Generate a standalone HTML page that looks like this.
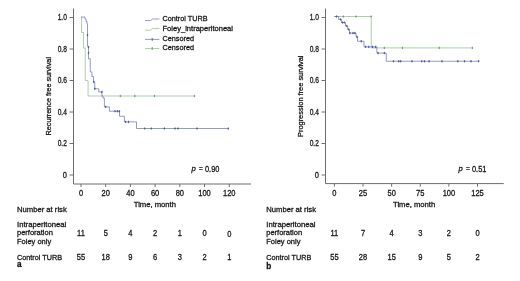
<!DOCTYPE html>
<html><head><meta charset="utf-8"><title>Kaplan-Meier</title>
<style>html,body{margin:0;padding:0;background:#fff}svg{display:block}text{font-family:"Liberation Sans",sans-serif;fill:#141414;stroke:#141414;stroke-width:0.28px}</style></head><body>
<svg width="520" height="281" viewBox="0 0 520 281" font-size="7.7">
<rect width="520" height="281" fill="#fff"/>
<g stroke="#6e6e6e" stroke-width="1" fill="none">
<path d="M73.5 8.5V184H251"/>
<path d="M69.5 175.00H73.5"/>
<path d="M69.5 143.50H73.5"/>
<path d="M69.5 112.00H73.5"/>
<path d="M69.5 80.50H73.5"/>
<path d="M69.5 49.00H73.5"/>
<path d="M69.5 17.50H73.5"/>
<path d="M81.00 184V187"/>
<path d="M105.71 184V187"/>
<path d="M130.42 184V187"/>
<path d="M155.12 184V187"/>
<path d="M179.83 184V187"/>
<path d="M204.54 184V187"/>
<path d="M229.25 184V187"/>
</g>
<text x="66.9" y="177.85" text-anchor="end" textLength="4.17" lengthAdjust="spacingAndGlyphs" font-size="8.3">0</text>
<text x="66.9" y="146.35" text-anchor="end" textLength="9.2" lengthAdjust="spacingAndGlyphs" font-size="8.3">0.2</text>
<text x="66.9" y="114.85" text-anchor="end" textLength="9.2" lengthAdjust="spacingAndGlyphs" font-size="8.3">0.4</text>
<text x="66.9" y="83.35" text-anchor="end" textLength="9.2" lengthAdjust="spacingAndGlyphs" font-size="8.3">0.6</text>
<text x="66.9" y="51.85" text-anchor="end" textLength="9.2" lengthAdjust="spacingAndGlyphs" font-size="8.3">0.8</text>
<text x="66.9" y="20.35" text-anchor="end" textLength="9.2" lengthAdjust="spacingAndGlyphs" font-size="8.3">1.0</text>
<text x="81.00" y="195.70" text-anchor="middle" textLength="4.17" lengthAdjust="spacingAndGlyphs" font-size="8.3">0</text>
<text x="105.71" y="195.70" text-anchor="middle" textLength="8.34" lengthAdjust="spacingAndGlyphs" font-size="8.3">20</text>
<text x="130.42" y="195.70" text-anchor="middle" textLength="8.34" lengthAdjust="spacingAndGlyphs" font-size="8.3">40</text>
<text x="155.12" y="195.70" text-anchor="middle" textLength="8.34" lengthAdjust="spacingAndGlyphs" font-size="8.3">60</text>
<text x="179.83" y="195.70" text-anchor="middle" textLength="8.34" lengthAdjust="spacingAndGlyphs" font-size="8.3">80</text>
<text x="204.54" y="195.70" text-anchor="middle" textLength="12.51" lengthAdjust="spacingAndGlyphs" font-size="8.3">100</text>
<text x="229.25" y="195.70" text-anchor="middle" textLength="12.51" lengthAdjust="spacingAndGlyphs" font-size="8.3">120</text>
<text transform="translate(51.4 96.25) rotate(-90)" text-anchor="middle" textLength="78.5" lengthAdjust="spacingAndGlyphs">Recurrence free survival</text>
<path d="M81.00 17.00H81.60V32.50H83.50V48.10H85.25V80.50H88.10V96.00H194.40V96.00" stroke="#8cb989" stroke-width="0.7" fill="none"/>
<path d="M120.40 94.80V97.20M119.60 96.00H121.20M134.80 94.80V97.20M134.00 96.00H135.60M154.50 94.80V97.20M153.70 96.00H155.30M194.40 94.80V97.20M193.60 96.00H195.20" stroke="#6a9a67" stroke-width="0.8" fill="none"/>
<path d="M81.00 17.00H85.00V19.00H86.00V21.50H87.00V24.00H87.50V46.25H88.50V58.75H90.25V71.90H91.90V76.50H93.50V81.90H94.75V88.75H98.75V91.90H101.90V96.00H103.00V98.00H104.40V106.90H109.40V111.25H119.50V116.25H124.40V121.90H136.50V128.50H228.25V128.50" stroke="#6670b6" stroke-width="0.7" fill="none"/>
<path d="M87.50 33.80V36.20M86.70 35.00H88.30M88.50 46.05V48.45M87.70 47.25H89.30M88.50 51.70V54.10M87.70 52.90H89.30M93.75 80.70V83.10M92.95 81.90H94.55M94.75 87.55V89.95M93.95 88.75H95.55M101.90 90.70V93.10M101.10 91.90H102.70M105.60 105.70V108.10M104.80 106.90H106.40M115.00 110.05V112.45M114.20 111.25H115.80M117.50 110.05V112.45M116.70 111.25H118.30M119.40 110.05V112.45M118.60 111.25H120.20M125.60 120.70V123.10M124.80 121.90H126.40M128.50 120.70V123.10M127.70 121.90H129.30M144.75 127.30V129.70M143.95 128.50H145.55M151.25 127.30V129.70M150.45 128.50H152.05M164.40 127.30V129.70M163.60 128.50H165.20M175.00 127.30V129.70M174.20 128.50H175.80M178.00 127.30V129.70M177.20 128.50H178.80M197.00 127.30V129.70M196.20 128.50H197.80M228.25 127.30V129.70M227.45 128.50H229.05" stroke="#4a5299" stroke-width="0.8" fill="none"/>
<path d="M145 20.6H150.5L152.5 19.0H159.4" stroke="#6670b6" stroke-width="0.7" fill="none"/>
<path d="M145 30.2H150.5L152.5 28.599999999999998H159.4" stroke="#8cb989" stroke-width="0.7" fill="none"/>
<path d="M145 39.4H159.4" stroke="#6670b6" stroke-width="0.7" fill="none"/>
<path d="M152.2 37.9V40.9" stroke="#4a5299" stroke-width="0.9" fill="none"/>
<path d="M145 48.5H159.4" stroke="#8cb989" stroke-width="0.7" fill="none"/>
<path d="M152.2 47.0V50.0" stroke="#6a9a67" stroke-width="0.9" fill="none"/>
<text x="162.5" y="21.30" textLength="45" lengthAdjust="spacingAndGlyphs">Control TURB</text>
<text x="162.5" y="31.30" textLength="70.5" lengthAdjust="spacingAndGlyphs">Foley_intraperitoneal</text>
<text x="162.5" y="40.80" textLength="31.5" lengthAdjust="spacingAndGlyphs">Censored</text>
<text x="162.5" y="50.10" textLength="31.5" lengthAdjust="spacingAndGlyphs">Censored</text>
<text x="191.6" y="171.4" font-style="italic" font-size="7.7">p</text>
<text x="198.9" y="171.2" stroke="none" font-size="6.4" fill="#444">=</text>
<text x="205" y="171.60" textLength="14.4" lengthAdjust="spacingAndGlyphs" font-size="8.3">0.90</text>
<text x="133.75" y="206.50" textLength="42.25" lengthAdjust="spacingAndGlyphs">Time, month</text>
<text x="17" y="211.80" textLength="49.75" lengthAdjust="spacingAndGlyphs">Number at risk</text>
<text x="17" y="227.00" textLength="49.25" lengthAdjust="spacingAndGlyphs">Intraperitoneal</text>
<text x="17" y="235.40" textLength="35.86" lengthAdjust="spacingAndGlyphs">perforation</text>
<text x="17" y="244.30" textLength="34.18" lengthAdjust="spacingAndGlyphs">Foley only</text>
<text x="17" y="259.80" textLength="45" lengthAdjust="spacingAndGlyphs">Control TURB</text>
<text x="16.9" y="266.6" font-weight="bold" font-size="8.2" stroke="none">a</text>
<text x="81.00" y="235.90" text-anchor="middle" textLength="7.79" lengthAdjust="spacingAndGlyphs" font-size="8.3">11</text>
<text x="105.71" y="235.90" text-anchor="middle" textLength="4.17" lengthAdjust="spacingAndGlyphs" font-size="8.3">5</text>
<text x="130.42" y="235.90" text-anchor="middle" textLength="4.17" lengthAdjust="spacingAndGlyphs" font-size="8.3">4</text>
<text x="155.12" y="235.90" text-anchor="middle" textLength="4.17" lengthAdjust="spacingAndGlyphs" font-size="8.3">2</text>
<text x="179.83" y="235.90" text-anchor="middle" textLength="4.17" lengthAdjust="spacingAndGlyphs" font-size="8.3">1</text>
<text x="204.54" y="235.90" text-anchor="middle" textLength="4.17" lengthAdjust="spacingAndGlyphs" font-size="8.3">0</text>
<text x="229.25" y="237.20" text-anchor="middle" textLength="4.17" lengthAdjust="spacingAndGlyphs" font-size="8.3">0</text>
<text x="81.00" y="260.10" text-anchor="middle" textLength="8.34" lengthAdjust="spacingAndGlyphs" font-size="8.3">55</text>
<text x="105.71" y="260.10" text-anchor="middle" textLength="8.34" lengthAdjust="spacingAndGlyphs" font-size="8.3">18</text>
<text x="130.42" y="260.10" text-anchor="middle" textLength="4.17" lengthAdjust="spacingAndGlyphs" font-size="8.3">9</text>
<text x="155.12" y="260.10" text-anchor="middle" textLength="4.17" lengthAdjust="spacingAndGlyphs" font-size="8.3">6</text>
<text x="179.83" y="260.10" text-anchor="middle" textLength="4.17" lengthAdjust="spacingAndGlyphs" font-size="8.3">3</text>
<text x="204.54" y="260.10" text-anchor="middle" textLength="4.17" lengthAdjust="spacingAndGlyphs" font-size="8.3">2</text>
<text x="229.25" y="260.10" text-anchor="middle" textLength="4.17" lengthAdjust="spacingAndGlyphs" font-size="8.3">1</text>
<g stroke="#6e6e6e" stroke-width="1" fill="none">
<path d="M325.5 8.5V183.6H503.75"/>
<path d="M321.5 175.00H325.5"/>
<path d="M321.5 143.50H325.5"/>
<path d="M321.5 112.00H325.5"/>
<path d="M321.5 80.50H325.5"/>
<path d="M321.5 49.00H325.5"/>
<path d="M321.5 17.50H325.5"/>
<path d="M334.40 183.6V186.6"/>
<path d="M363.02 183.6V186.6"/>
<path d="M391.64 183.6V186.6"/>
<path d="M420.26 183.6V186.6"/>
<path d="M448.88 183.6V186.6"/>
<path d="M477.50 183.6V186.6"/>
</g>
<text x="318.9" y="177.85" text-anchor="end" textLength="4.17" lengthAdjust="spacingAndGlyphs" font-size="8.3">0</text>
<text x="318.9" y="146.35" text-anchor="end" textLength="9.2" lengthAdjust="spacingAndGlyphs" font-size="8.3">0.2</text>
<text x="318.9" y="114.85" text-anchor="end" textLength="9.2" lengthAdjust="spacingAndGlyphs" font-size="8.3">0.4</text>
<text x="318.9" y="83.35" text-anchor="end" textLength="9.2" lengthAdjust="spacingAndGlyphs" font-size="8.3">0.6</text>
<text x="318.9" y="51.85" text-anchor="end" textLength="9.2" lengthAdjust="spacingAndGlyphs" font-size="8.3">0.8</text>
<text x="318.9" y="20.35" text-anchor="end" textLength="9.2" lengthAdjust="spacingAndGlyphs" font-size="8.3">1.0</text>
<text x="334.40" y="195.70" text-anchor="middle" textLength="4.17" lengthAdjust="spacingAndGlyphs" font-size="8.3">0</text>
<text x="363.02" y="195.70" text-anchor="middle" textLength="8.34" lengthAdjust="spacingAndGlyphs" font-size="8.3">25</text>
<text x="391.64" y="195.70" text-anchor="middle" textLength="8.34" lengthAdjust="spacingAndGlyphs" font-size="8.3">50</text>
<text x="420.26" y="195.70" text-anchor="middle" textLength="8.34" lengthAdjust="spacingAndGlyphs" font-size="8.3">75</text>
<text x="448.88" y="195.70" text-anchor="middle" textLength="12.51" lengthAdjust="spacingAndGlyphs" font-size="8.3">100</text>
<text x="477.50" y="195.70" text-anchor="middle" textLength="12.51" lengthAdjust="spacingAndGlyphs" font-size="8.3">125</text>
<text transform="translate(303.4 96.25) rotate(-90)" text-anchor="middle" textLength="81.5" lengthAdjust="spacingAndGlyphs">Progression free survival</text>
<path d="M334.25 16.50H371.25V47.90H472.40V47.90" stroke="#8cb989" stroke-width="0.7" fill="none"/>
<path d="M343.25 15.30V17.70M342.45 16.50H344.05M356.10 15.30V17.70M355.30 16.50H356.90M371.10 15.30V17.70M370.30 16.50H371.90M384.40 46.70V49.10M383.60 47.90H385.20M402.50 46.70V49.10M401.70 47.90H403.30M439.25 46.70V49.10M438.45 47.90H440.05M472.40 46.70V49.10M471.60 47.90H473.20" stroke="#6a9a67" stroke-width="0.8" fill="none"/>
<path d="M334.25 16.50H338.60V19.40H341.50V22.50H345.50V26.00H347.70V29.40H349.50V33.10H356.10V36.90H357.50V41.25H364.00V46.90H376.90V53.10H386.25V61.25H478.60V61.25" stroke="#6670b6" stroke-width="0.7" fill="none"/>
<path d="M336.50 15.30V17.70M335.70 16.50H337.30M340.50 18.20V20.60M339.70 19.40H341.30M342.40 21.30V23.70M341.60 22.50H343.20M344.25 21.30V23.70M343.45 22.50H345.05M346.75 24.80V27.20M345.95 26.00H347.55M348.60 28.20V30.60M347.80 29.40H349.40M349.90 31.90V34.30M349.10 33.10H350.70M353.00 31.90V34.30M352.20 33.10H353.80M354.90 31.90V34.30M354.10 33.10H355.70M357.00 35.70V38.10M356.20 36.90H357.80M361.25 40.05V42.45M360.45 41.25H362.05M365.60 45.70V48.10M364.80 46.90H366.40M368.75 45.70V48.10M367.95 46.90H369.55M372.50 45.70V48.10M371.70 46.90H373.30M375.60 45.70V48.10M374.80 46.90H376.40M378.10 51.90V54.30M377.30 53.10H378.90M384.40 51.90V54.30M383.60 53.10H385.20M393.50 60.05V62.45M392.70 61.25H394.30M398.75 60.05V62.45M397.95 61.25H399.55M400.60 60.05V62.45M399.80 61.25H401.40M411.90 60.05V62.45M411.10 61.25H412.70M421.75 60.05V62.45M420.95 61.25H422.55M424.50 60.05V62.45M423.70 61.25H425.30M429.00 60.05V62.45M428.20 61.25H429.80M442.00 60.05V62.45M441.20 61.25H442.80M457.75 60.05V62.45M456.95 61.25H458.55M464.50 60.05V62.45M463.70 61.25H465.30M471.10 60.05V62.45M470.30 61.25H471.90M478.60 60.05V62.45M477.80 61.25H479.40" stroke="#4a5299" stroke-width="0.8" fill="none"/>
<text x="458.6" y="171.4" font-style="italic" font-size="7.7">p</text>
<text x="465.9" y="171.2" stroke="none" font-size="6.4" fill="#444">=</text>
<text x="472" y="171.60" textLength="14.4" lengthAdjust="spacingAndGlyphs" font-size="8.3">0.51</text>
<text x="393" y="206.50" textLength="42.25" lengthAdjust="spacingAndGlyphs">Time, month</text>
<text x="266.25" y="211.80" textLength="49.75" lengthAdjust="spacingAndGlyphs">Number at risk</text>
<text x="266.25" y="227.00" textLength="49.25" lengthAdjust="spacingAndGlyphs">Intraperitoneal</text>
<text x="266.25" y="235.40" textLength="35.86" lengthAdjust="spacingAndGlyphs">perforation</text>
<text x="266.25" y="244.30" textLength="34.18" lengthAdjust="spacingAndGlyphs">Foley only</text>
<text x="266.25" y="259.80" textLength="45" lengthAdjust="spacingAndGlyphs">Control TURB</text>
<text x="266.15" y="268.75" font-weight="bold" font-size="8.2" stroke="none">b</text>
<text x="334.40" y="235.90" text-anchor="middle" textLength="7.79" lengthAdjust="spacingAndGlyphs" font-size="8.3">11</text>
<text x="363.02" y="235.90" text-anchor="middle" textLength="4.17" lengthAdjust="spacingAndGlyphs" font-size="8.3">7</text>
<text x="391.64" y="235.90" text-anchor="middle" textLength="4.17" lengthAdjust="spacingAndGlyphs" font-size="8.3">4</text>
<text x="420.26" y="235.90" text-anchor="middle" textLength="4.17" lengthAdjust="spacingAndGlyphs" font-size="8.3">3</text>
<text x="448.88" y="235.90" text-anchor="middle" textLength="4.17" lengthAdjust="spacingAndGlyphs" font-size="8.3">2</text>
<text x="477.50" y="235.90" text-anchor="middle" textLength="4.17" lengthAdjust="spacingAndGlyphs" font-size="8.3">0</text>
<text x="334.40" y="260.10" text-anchor="middle" textLength="8.34" lengthAdjust="spacingAndGlyphs" font-size="8.3">55</text>
<text x="363.02" y="260.10" text-anchor="middle" textLength="8.34" lengthAdjust="spacingAndGlyphs" font-size="8.3">28</text>
<text x="391.64" y="260.10" text-anchor="middle" textLength="8.34" lengthAdjust="spacingAndGlyphs" font-size="8.3">15</text>
<text x="420.26" y="260.10" text-anchor="middle" textLength="4.17" lengthAdjust="spacingAndGlyphs" font-size="8.3">9</text>
<text x="448.88" y="260.10" text-anchor="middle" textLength="4.17" lengthAdjust="spacingAndGlyphs" font-size="8.3">5</text>
<text x="477.50" y="260.10" text-anchor="middle" textLength="4.17" lengthAdjust="spacingAndGlyphs" font-size="8.3">2</text>
</svg></body></html>
